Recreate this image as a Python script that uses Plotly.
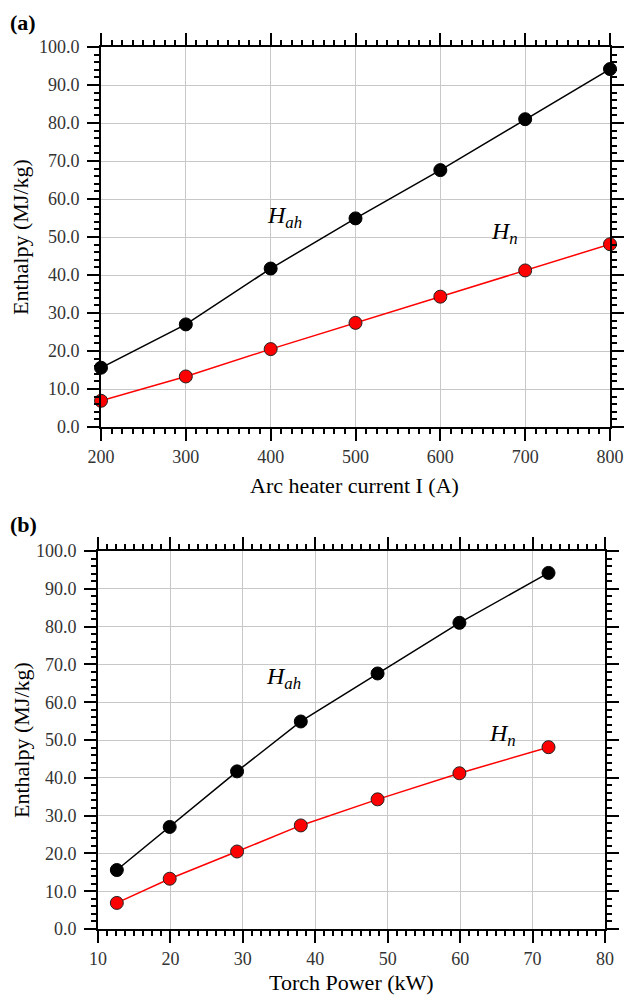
import plotly.graph_objects as go

current_A = [200, 300, 400, 500, 600, 700, 800]
torch_power_kW = [12.6, 19.9, 29.2, 38.0, 48.6, 59.9, 72.2]
H_ah = [15.6, 27.0, 41.7, 54.9, 67.6, 81.0, 94.2]
H_n = [6.9, 13.3, 20.5, 27.4, 34.3, 41.2, 48.1]

W, H = 625, 995
FONT = "Liberation Serif, Times New Roman, serif"

def px_x(p):
    return p / W

def px_y(p):
    return 1 - p / H

fig = go.Figure()

for xs, xa, ya in [(current_A, "x", "y"), (torch_power_kW, "x2", "y2")]:
    fig.add_trace(go.Scatter(x=xs, y=H_ah, xaxis=xa, yaxis=ya, mode="lines+markers",
                             line=dict(color="black", width=1.5),
                             marker=dict(size=13, color="black", line=dict(color="black", width=1)),
                             showlegend=False, cliponaxis=False))
    fig.add_trace(go.Scatter(x=xs, y=H_n, xaxis=xa, yaxis=ya, mode="lines+markers",
                             line=dict(color="#ff0000", width=1.5),
                             marker=dict(size=13, color="#ff0000", line=dict(color="#222", width=1)),
                             showlegend=False, cliponaxis=False))

def xaxis(domain, rng, dtick, minor_dtick, anchor):
    return dict(domain=domain, range=rng, dtick=dtick, tick0=rng[0], anchor=anchor,
                showline=True, linecolor="black", linewidth=2, mirror="ticks",
                ticks="outside", ticklen=12, tickwidth=1.5, tickcolor="black",
                minor=dict(dtick=minor_dtick, tick0=rng[0], ticks="outside", ticklen=5,
                           tickwidth=1.5, tickcolor="black", showgrid=False),
                showgrid=True, gridcolor="#c8c8c8", gridwidth=1, zeroline=False,
                ticklabelstandoff=0,
                tickfont=dict(family=FONT, size=18, color="#333"), automargin=False)

def yaxis(domain, anchor):
    return dict(domain=domain, range=[0, 100], dtick=10, tick0=0, anchor=anchor,
                tickformat=".1f",
                showline=True, linecolor="black", linewidth=2, mirror="ticks",
                ticks="outside", ticklen=12, tickwidth=1.5, tickcolor="black",
                minor=dict(dtick=2, tick0=0, ticks="outside", ticklen=5,
                           tickwidth=1.5, tickcolor="black", showgrid=False),
                showgrid=True, gridcolor="#c8c8c8", gridwidth=1, zeroline=False,
                ticklabelstandoff=4,
                tickfont=dict(family=FONT, size=18, color="#333"), automargin=False)

fig.update_layout(
    width=W, height=H, margin=dict(l=0, r=0, t=0, b=0),
    paper_bgcolor="white", plot_bgcolor="white",
    xaxis=xaxis([px_x(101), px_x(610)], [200, 800], 100, 12.5, "y"),
    yaxis=yaxis([px_y(427), px_y(47)], "x"),
    xaxis2=xaxis([px_x(98), px_x(605)], [10, 80], 10, 1.25, "y2"),
    yaxis2=yaxis([px_y(929), px_y(551)], "x2"),
)

ann = []
def paper_text(text, x, y, size=21, bold=False, angle=0):
    ann.append(dict(text=f"<b>{text}</b>" if bold else text, xref="paper", yref="paper",
                    x=px_x(x), y=px_y(y), showarrow=False, textangle=angle,
                    font=dict(family=FONT, size=size, color="black"),
                    xanchor="center", yanchor="middle"))

paper_text("(a)", 23, 23, size=22, bold=True)
paper_text("(b)", 24, 524, size=22, bold=True)
paper_text("Arc heater current I (A)", 355, 485, size=22)
paper_text("Torch Power (kW)", 351, 982, size=22)
paper_text("Enthalpy (MJ/kg)", 21, 237, size=22, angle=-90)
paper_text("Enthalpy (MJ/kg)", 21, 740, size=22, angle=-90)

def data_text(text, x, y, xr, yr):
    ann.append(dict(text=text, xref=xr, yref=yr, x=x, y=y, showarrow=False,
                    font=dict(family=FONT, size=24, color="black"),
                    xanchor="center", yanchor="middle"))

data_text("<i>H</i><sub><i>ah</i></sub>", 416, 55.2, "x", "y")
data_text("<i>H</i><sub><i>n</i></sub>", 676, 51, "x", "y")
data_text("<i>H</i><sub><i>ah</i></sub>", 35.6, 66.5, "x2", "y2")
data_text("<i>H</i><sub><i>n</i></sub>", 65.8, 51.2, "x2", "y2")

fig.update_layout(annotations=ann)
fig.write_html("out.html")
